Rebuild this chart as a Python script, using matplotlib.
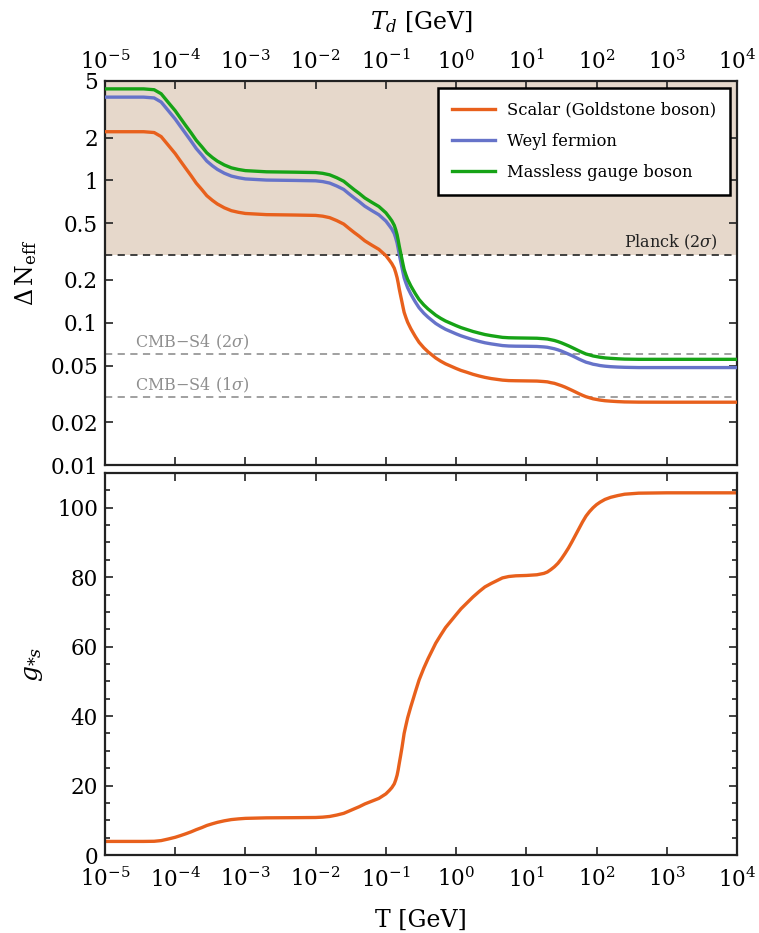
import matplotlib
matplotlib.use("Agg")
import matplotlib.pyplot as plt
from matplotlib.ticker import FixedLocator, NullLocator, MultipleLocator

plt.rcParams['font.family'] = ['DejaVu Serif']
plt.rcParams['mathtext.fontset'] = 'dejavuserif'

# ---- data ----
log10_T = [-5.0, -4.6, -4.45, -4.3, -4.2, -4.1, -4.0, -3.93, -3.85, -3.77, -3.7, -3.62,
           -3.55, -3.47, -3.4, -3.3, -3.2, -3.1, -3.0, -2.7, -2.3, -2.0, -1.9, -1.8,
           -1.7, -1.6, -1.53, -1.45, -1.38, -1.3, -1.2, -1.1, -1.0, -0.95, -0.915, -0.88,
           -0.86, -0.84, -0.825, -0.81, -0.79, -0.77, -0.755, -0.74, -0.715, -0.69, -0.645, -0.61,
           -0.58, -0.527, -0.46, -0.4, -0.29, -0.22, -0.15, 0.0, 0.07, 0.15, 0.24, 0.33,
           0.41, 0.5, 0.66, 0.75, 0.85, 1.0, 1.15, 1.25, 1.3, 1.35, 1.4, 1.45,
           1.5, 1.55, 1.6, 1.65, 1.7, 1.75, 1.8, 1.85, 1.9, 1.95, 2.0, 2.05,
           2.12, 2.2, 2.3, 2.4, 2.6, 3.0, 4.0]
T_GeV = [10 ** v for v in log10_T]

g_star_s = [3.91, 3.91, 3.91, 3.95, 4.15, 4.6, 5.1, 5.55, 6.1, 6.7, 7.3, 7.9,
            8.5, 9.0, 9.4, 9.85, 10.2, 10.4, 10.55, 10.7, 10.75, 10.8, 10.9, 11.1,
            11.5, 12.0, 12.6, 13.3, 13.9, 14.7, 15.5, 16.3, 17.6, 18.6, 19.4, 20.5,
            21.6, 23.0, 24.5, 26.3, 28.6, 31.0, 33.0, 35.0, 37.3, 39.5, 42.7, 45.0,
            47.0, 50.4, 53.8, 56.5, 61.0, 63.3, 65.5, 69.2, 70.9, 72.5, 74.3, 75.9,
            77.2, 78.2, 79.8, 80.2, 80.4, 80.5, 80.7, 81.1, 81.5, 82.2, 83.0, 84.0,
            85.3, 86.8, 88.4, 90.2, 92.1, 94.0, 95.9, 97.6, 98.9, 100.0, 100.9, 101.6,
            102.4, 103.0, 103.5, 103.9, 104.2, 104.3, 104.3]

dNeff_scalar = [2.20, 2.20, 2.20, 2.171, 2.033, 1.772, 1.544, 1.380, 1.216, 1.0734, 0.957, 0.8616,
                0.7815, 0.7242, 0.6834, 0.642, 0.6129, 0.5972, 0.5859, 0.575, 0.5714, 0.5679, 0.5609, 0.5475,
                0.5223, 0.4935, 0.4624, 0.4302, 0.4056, 0.3765, 0.3508, 0.328, 0.2962, 0.2751, 0.2601, 0.2416,
                0.2254, 0.2073, 0.1905, 0.1733, 0.155, 0.1392, 0.1281, 0.1184, 0.1088, 0.1008, 0.0908, 0.0847,
                0.0799, 0.0728, 0.0667, 0.0625, 0.0565, 0.0537, 0.0514, 0.0477, 0.0462, 0.0449, 0.0434, 0.0422,
                0.0413, 0.0405, 0.0395, 0.0392, 0.0391, 0.0390, 0.0389, 0.0386, 0.0384, 0.0379, 0.0375, 0.0368,
                0.0361, 0.0353, 0.0344, 0.0335, 0.0326, 0.0317, 0.0309, 0.0302, 0.0297, 0.0292, 0.0289, 0.0286,
                0.0283, 0.0281, 0.0279, 0.02776, 0.02766, 0.02763, 0.02763]

dNeff_weyl = [3.85, 3.85, 3.85, 3.80, 3.558, 3.10, 2.70, 2.415, 2.13, 1.878, 1.675, 1.508,
              1.368, 1.267, 1.196, 1.1235, 1.073, 1.045, 1.025, 1.006, 1.0, 0.994, 0.9816, 0.958,
              0.914, 0.864, 0.809, 0.753, 0.710, 0.659, 0.614, 0.574, 0.5184, 0.481, 0.4552, 0.423,
              0.3945, 0.363, 0.3334, 0.303, 0.2713, 0.2436, 0.2242, 0.2072, 0.1904, 0.1764, 0.1589, 0.1482,
              0.1398, 0.1274, 0.1167, 0.1094, 0.0988, 0.0940, 0.0899, 0.0835, 0.0809, 0.0785, 0.0760, 0.0739,
              0.0723, 0.0710, 0.0691, 0.0686, 0.0684, 0.0683, 0.0681, 0.0676, 0.0672, 0.0664, 0.0656, 0.0645,
              0.0632, 0.0617, 0.0602, 0.0587, 0.0571, 0.0555, 0.0541, 0.0528, 0.0520, 0.0511, 0.0506, 0.0500,
              0.0495, 0.0491, 0.0488, 0.0486, 0.0484, 0.0484, 0.0484]

dNeff_gauge = [4.40, 4.40, 4.40, 4.34, 4.066, 3.54, 3.09, 2.760, 2.43, 2.147, 1.914, 1.723,
               1.563, 1.448, 1.367, 1.284, 1.226, 1.194, 1.172, 1.150, 1.143, 1.136, 1.122, 1.095,
               1.045, 0.987, 0.925, 0.860, 0.811, 0.753, 0.7016, 0.656, 0.5924, 0.550, 0.5202, 0.483,
               0.4508, 0.415, 0.381, 0.347, 0.310, 0.2784, 0.2562, 0.2368, 0.2176, 0.2016, 0.1816, 0.1694,
               0.1598, 0.1456, 0.1334, 0.125, 0.113, 0.1074, 0.1028, 0.0954, 0.0924, 0.0897, 0.0868, 0.0845,
               0.0826, 0.0811, 0.0789, 0.0784, 0.0782, 0.0780, 0.0778, 0.0772, 0.0768, 0.0759, 0.0750, 0.0737,
               0.0722, 0.0705, 0.0688, 0.0670, 0.0652, 0.0634, 0.0618, 0.0603, 0.0594, 0.0584, 0.0578, 0.0572,
               0.0566, 0.0562, 0.0558, 0.0555, 0.0553, 0.0553, 0.0553]

series_labels = ["Scalar (Goldstone boson)", "Weyl fermion", "Massless gauge boson"]
planck_2sigma = 0.3
cmbs4_2sigma = 0.06
cmbs4_1sigma = 0.03
dN_ticks = [0.01, 0.02, 0.05, 0.1, 0.2, 0.5, 1, 2, 5]
dN_tick_labels = ["0.01", "0.02", "0.05", "0.1", "0.2", "0.5", "1", "2", "5"]
T_ticks = [1e-5, 1e-4, 1e-3, 1e-2, 1e-1, 1e0, 1e1, 1e2, 1e3, 1e4]

# ---- styling ----
c_scalar = '#e8601c'
c_weyl = '#6673c9'
c_gauge = '#16a316'
shade = '#e6d8cb'
spine_c = '#222222'
lw = 2.4

fig = plt.figure(figsize=(7.59, 9.33), dpi=100)
ax1 = fig.add_axes([0.1383, 0.5016, 0.8327, 0.4116])
ax2 = fig.add_axes([0.1383, 0.0836, 0.8327, 0.4094])

for ax in (ax1, ax2):
    for s in ax.spines.values():
        s.set_linewidth(1.6)
        s.set_color(spine_c)
    ax.set_xscale('log')
    ax.set_xlim(1e-5, 1e4)
    ax.xaxis.set_major_locator(FixedLocator(T_ticks))
    ax.xaxis.set_minor_locator(NullLocator())
    ax.tick_params(which='both', direction='in', top=True, right=True,
                   labelsize=15.5, width=1.2, color=spine_c, pad=5)
    ax.tick_params(which='major', length=6)
    ax.tick_params(which='minor', length=3.5)

# top panel
ax1.set_yscale('log')
ax1.set_ylim(0.01, 5)
ax1.axhspan(planck_2sigma, 5, color=shade, zorder=0, lw=0)
ax1.axhline(planck_2sigma, color='#333333', ls=(0, (4, 3)), lw=1.3, zorder=1)
ax1.axhline(cmbs4_2sigma, color='#999999', ls=(0, (4, 3)), lw=1.3, zorder=1)
ax1.axhline(cmbs4_1sigma, color='#999999', ls=(0, (4, 3)), lw=1.3, zorder=1)
ax1.plot(T_GeV, dNeff_scalar, color=c_scalar, lw=lw, label=series_labels[0], zorder=3,
         solid_joinstyle='round')
ax1.plot(T_GeV, dNeff_weyl, color=c_weyl, lw=lw, label=series_labels[1], zorder=3,
         solid_joinstyle='round')
ax1.plot(T_GeV, dNeff_gauge, color=c_gauge, lw=lw, label=series_labels[2], zorder=3,
         solid_joinstyle='round')
ax1.yaxis.set_major_locator(FixedLocator(dN_ticks))
ax1.yaxis.set_minor_locator(NullLocator())
ax1.set_yticklabels(dN_tick_labels)
ax1.tick_params(axis='x', labeltop=True, labelbottom=False)
ax1.set_xlabel(r'$T_d$ [GeV]', fontsize=17, labelpad=15)
ax1.xaxis.set_label_position('top')
ax1.set_ylabel(r'$\Delta\,\mathrm{N}_{\mathrm{eff}}$', fontsize=17, labelpad=8)

ax1.text(10 ** 3.73, 0.312, r'Planck (2$\sigma$)', ha='right', va='bottom',
         fontsize=11.5, color='#222222')
ax1.text(10 ** -4.57, 0.0625, r'CMB$-$S4 (2$\sigma$)', ha='left', va='bottom',
         fontsize=11.5, color='#8f8f8f')
ax1.text(10 ** -4.57, 0.0312, r'CMB$-$S4 (1$\sigma$)', ha='left', va='bottom',
         fontsize=11.5, color='#8f8f8f')

leg = ax1.legend(loc='upper right', bbox_to_anchor=(0.989, 0.982), borderaxespad=0,
                 fontsize=11.8, frameon=True, fancybox=False, framealpha=1, edgecolor='black',
                 handlelength=2.6, handletextpad=0.75, borderpad=0.85, labelspacing=0.85)
leg.get_frame().set_linewidth(1.8)

# bottom panel
ax2.plot(T_GeV, g_star_s, color=c_scalar, lw=lw, solid_joinstyle='round')
ax2.set_ylim(0, 110)
ax2.yaxis.set_major_locator(MultipleLocator(20))
ax2.yaxis.set_minor_locator(MultipleLocator(5))
ax2.tick_params(axis='x', pad=9)
ax2.set_xlabel('T [GeV]', fontsize=17, labelpad=12)
ax2.set_ylabel(r'$g_{*s}$', fontsize=18, labelpad=9)

fig.savefig('out.png', dpi=100)
